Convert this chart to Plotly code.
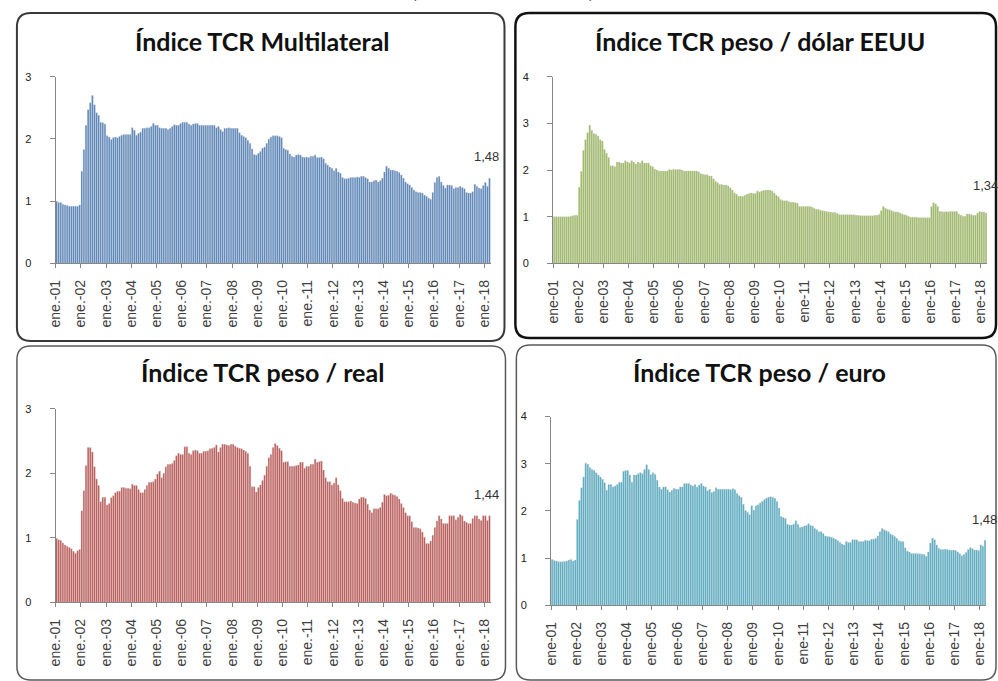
import plotly.graph_objects as go

# ---------------- data (monthly, ene-01 .. mar-18) ----------------
years = list(range(2001, 2019))
tick_years = [f"{y % 100:02d}" for y in years]
labels_dot = [f"ene.-{t}" for t in tick_years]
labels_plain = [f"ene-{t}" for t in tick_years]

multilateral = [
    1.00, 0.98, 0.98, 0.95, 0.94, 0.93, 0.92, 0.92, 0.92, 0.92, 0.92, 0.94,
    1.48, 1.83, 2.22, 2.47, 2.58, 2.70, 2.55, 2.42, 2.38, 2.27, 2.26, 2.24,
    2.05, 2.03, 1.99, 2.02, 2.03, 2.02, 2.04, 2.06, 2.07, 2.07, 2.07, 2.07,
    2.18, 2.14, 2.06, 2.09, 2.11, 2.17, 2.17, 2.18, 2.18, 2.20, 2.25, 2.22,
    2.22, 2.18, 2.17, 2.17, 2.17, 2.15, 2.17, 2.20, 2.23, 2.22, 2.22, 2.25,
    2.27, 2.27, 2.27, 2.24, 2.22, 2.24, 2.25, 2.25, 2.22, 2.22, 2.22, 2.22,
    2.22, 2.22, 2.22, 2.22, 2.18, 2.20, 2.15, 2.12, 2.17, 2.17, 2.18, 2.17,
    2.17, 2.17, 2.17, 2.10, 2.06, 2.04, 2.02, 1.98, 1.93, 1.84, 1.75, 1.74,
    1.77, 1.80, 1.85, 1.87, 1.93, 2.00, 2.03, 2.05, 2.05, 2.05, 2.04, 2.02,
    1.85, 1.83, 1.82, 1.76, 1.72, 1.71, 1.74, 1.75, 1.74, 1.71, 1.70, 1.71,
    1.70, 1.72, 1.72, 1.74, 1.70, 1.70, 1.71, 1.68, 1.61, 1.58, 1.55, 1.53,
    1.49, 1.53, 1.47, 1.45, 1.38, 1.36, 1.36, 1.37, 1.38, 1.38, 1.38, 1.39,
    1.38, 1.40, 1.40, 1.38, 1.36, 1.31, 1.31, 1.33, 1.34, 1.31, 1.33, 1.37,
    1.47, 1.56, 1.53, 1.50, 1.50, 1.49, 1.48, 1.46, 1.42, 1.37, 1.31, 1.28,
    1.26, 1.22, 1.18, 1.15, 1.14, 1.14, 1.13, 1.10, 1.08, 1.05, 1.03, 1.14,
    1.30, 1.38, 1.40, 1.31, 1.25, 1.21, 1.26, 1.26, 1.25, 1.20, 1.22, 1.22,
    1.24, 1.22, 1.20, 1.14, 1.13, 1.13, 1.15, 1.27, 1.24, 1.21, 1.20, 1.25,
    1.30, 1.24, 1.37,
]

dolar = [
    1.00, 1.00, 1.00, 1.00, 1.00, 1.00, 1.00, 1.00, 1.01, 1.02, 1.03, 1.03,
    1.63, 1.97, 2.42, 2.65, 2.80, 2.96, 2.85, 2.78, 2.76, 2.73, 2.65, 2.62,
    2.44, 2.36, 2.27, 2.09, 2.09, 2.07, 2.17, 2.17, 2.15, 2.15, 2.20, 2.17,
    2.15, 2.20, 2.17, 2.13, 2.17, 2.15, 2.20, 2.15, 2.15, 2.15, 2.09, 2.07,
    2.02, 2.00, 1.98, 1.98, 1.98, 1.98, 1.98, 2.01, 2.00, 2.01, 2.01, 2.01,
    2.01, 2.00, 1.98, 1.98, 1.98, 1.98, 1.98, 1.98, 1.98, 1.96, 1.92, 1.91,
    1.90, 1.90, 1.87, 1.87, 1.81, 1.76, 1.73, 1.69, 1.69, 1.68, 1.68, 1.66,
    1.62, 1.57, 1.51, 1.48, 1.44, 1.44, 1.44, 1.46, 1.48, 1.50, 1.51, 1.50,
    1.50, 1.55, 1.53, 1.55, 1.56, 1.57, 1.57, 1.57, 1.55, 1.51, 1.46, 1.43,
    1.37, 1.35, 1.34, 1.34, 1.32, 1.31, 1.31, 1.30, 1.29, 1.22, 1.22, 1.22,
    1.22, 1.22, 1.22, 1.21, 1.18, 1.16, 1.16, 1.14, 1.13, 1.12, 1.11, 1.10,
    1.10, 1.09, 1.09, 1.07, 1.05, 1.04, 1.04, 1.04, 1.04, 1.04, 1.04, 1.04,
    1.03, 1.03, 1.02, 1.02, 1.02, 1.02, 1.02, 1.02, 1.02, 1.03, 1.03, 1.05,
    1.13, 1.22, 1.18, 1.16, 1.15, 1.13, 1.11, 1.10, 1.10, 1.08, 1.06, 1.04,
    1.03, 1.01, 0.99, 0.99, 0.99, 0.99, 0.98, 0.98, 0.98, 0.98, 0.98, 0.98,
    1.22, 1.30, 1.27, 1.22, 1.11, 1.11, 1.10, 1.11, 1.10, 1.11, 1.11, 1.11,
    1.11, 1.06, 1.03, 1.01, 1.01, 1.06, 1.06, 1.04, 1.03, 1.03, 1.08, 1.11,
    1.10, 1.10, 1.08,
]

real = [
    0.99, 0.97, 0.96, 0.92, 0.89, 0.87, 0.85, 0.83, 0.79, 0.76, 0.80, 0.82,
    1.42, 1.73, 2.12, 2.40, 2.40, 2.33, 2.10, 1.91, 1.81, 1.56, 1.63, 1.63,
    1.51, 1.53, 1.62, 1.65, 1.70, 1.72, 1.72, 1.78, 1.78, 1.77, 1.77, 1.76,
    1.83, 1.81, 1.81, 1.75, 1.70, 1.70, 1.75, 1.81, 1.86, 1.86, 1.87, 1.91,
    1.99, 2.03, 1.93, 2.00, 2.10, 2.14, 2.14, 2.15, 2.20, 2.27, 2.31, 2.29,
    2.29, 2.41, 2.41, 2.31, 2.29, 2.35, 2.36, 2.35, 2.31, 2.31, 2.34, 2.34,
    2.35, 2.38, 2.39, 2.40, 2.44, 2.33, 2.40, 2.45, 2.45, 2.44, 2.43, 2.45,
    2.45, 2.42, 2.40, 2.39, 2.38, 2.36, 2.34, 2.31, 2.11, 1.79, 1.79, 1.71,
    1.78, 1.82, 1.89, 1.97, 2.11, 2.24, 2.29, 2.40, 2.46, 2.43, 2.39, 2.35,
    2.17, 2.18, 2.18, 2.11, 2.11, 2.11, 2.12, 2.13, 2.17, 2.17, 2.08, 2.11,
    2.11, 2.14, 2.14, 2.22, 2.17, 2.18, 2.19, 2.05, 1.93, 1.87, 1.87, 1.82,
    1.85, 1.93, 1.82, 1.73, 1.61, 1.56, 1.56, 1.56, 1.57, 1.55, 1.54, 1.53,
    1.60, 1.63, 1.63, 1.61, 1.52, 1.43, 1.39, 1.45, 1.45, 1.45, 1.47, 1.55,
    1.67, 1.65, 1.66, 1.69, 1.67, 1.66, 1.64, 1.60, 1.53, 1.47, 1.39, 1.34,
    1.34, 1.25, 1.16, 1.16, 1.15, 1.14, 1.09, 1.01, 0.91, 0.91, 0.95, 1.04,
    1.16, 1.26, 1.34, 1.29, 1.22, 1.22, 1.22, 1.34, 1.34, 1.34, 1.28, 1.32,
    1.36, 1.34, 1.26, 1.24, 1.22, 1.22, 1.30, 1.34, 1.34, 1.29, 1.27, 1.34,
    1.34, 1.27, 1.34,
]

euro = [
    0.97, 0.95, 0.94, 0.92, 0.92, 0.92, 0.93, 0.94, 0.96, 0.97, 0.94, 0.96,
    1.82, 2.22, 2.49, 2.72, 3.01, 2.99, 2.92, 2.88, 2.86, 2.81, 2.76, 2.72,
    2.67, 2.60, 2.44, 2.56, 2.56, 2.51, 2.53, 2.56, 2.61, 2.61, 2.84, 2.86,
    2.86, 2.76, 2.61, 2.76, 2.76, 2.79, 2.81, 2.79, 2.88, 2.98, 2.88, 2.77,
    2.81, 2.78, 2.65, 2.51, 2.46, 2.51, 2.51, 2.45, 2.40, 2.44, 2.48, 2.46,
    2.46, 2.51, 2.51, 2.58, 2.58, 2.58, 2.55, 2.53, 2.56, 2.51, 2.55, 2.58,
    2.53, 2.51, 2.43, 2.46, 2.39, 2.41, 2.49, 2.46, 2.46, 2.46, 2.46, 2.46,
    2.46, 2.45, 2.47, 2.45, 2.37, 2.32, 2.29, 2.14, 2.01, 1.97, 1.92, 2.11,
    2.02, 2.11, 2.13, 2.17, 2.20, 2.24, 2.27, 2.29, 2.30, 2.29, 2.27, 2.20,
    2.06, 1.88, 1.86, 1.84, 1.72, 1.70, 1.70, 1.72, 1.79, 1.72, 1.65, 1.66,
    1.68, 1.69, 1.73, 1.69, 1.68, 1.63, 1.60, 1.56, 1.56, 1.52, 1.47, 1.46,
    1.45, 1.44, 1.42, 1.40, 1.37, 1.33, 1.30, 1.28, 1.35, 1.33, 1.33, 1.39,
    1.39, 1.39, 1.35, 1.35, 1.35, 1.38, 1.37, 1.37, 1.40, 1.40, 1.42, 1.47,
    1.56, 1.63, 1.60, 1.58, 1.56, 1.51, 1.49, 1.46, 1.42, 1.37, 1.35, 1.35,
    1.22, 1.15, 1.13, 1.10, 1.10, 1.10, 1.09, 1.09, 1.08, 1.08, 1.04, 1.13,
    1.32, 1.42, 1.39, 1.28, 1.21, 1.18, 1.18, 1.19, 1.18, 1.17, 1.16, 1.17,
    1.16, 1.13, 1.09, 1.05, 1.08, 1.12, 1.18, 1.22, 1.20, 1.17, 1.17, 1.16,
    1.28, 1.25, 1.38,
]

titles = ["Índice TCR Multilateral", "Índice TCR peso / dólar EEUU",
          "Índice TCR peso / real", "Índice TCR peso / euro"]
last_labels = ["1,48", "1,34", "1,44", "1,48"]
colors = ["#4F81BD", "#9BBB59", "#C0504D", "#4BACC6"]
series = [multilateral, dolar, real, euro]
ymax = [3, 4, 3, 4]
tick_labels = [labels_dot, labels_plain, labels_dot, labels_plain]

# ---------------- layout geometry (pixels) ----------------
W, H = 998, 681
# (x_left, x_right, y_zero_px, y_top_px)
plot_px = [(48, 487, 262, 72), (550, 988, 262, 72),
           (48, 487, 607, 410), (548, 987, 610, 418)]
title_px = [(257, 36), (759, 36), (257, 373), (758, 373)]
label_pos = [(204.6, 1.71), (205.6, 1.66), (204.6, 1.67), (205.6, 1.81)]
boxes = [(9, 7, 501, 341, "#3a3a3a", 2), (512, 7, 997, 338, "#111111", 2.5),
         (9, 346, 502, 686, "#5a5a5a", 1.5), (513, 345, 997, 686, "#5a5a5a", 1.5)]

n = len(multilateral)
xs = list(range(n))
tickvals = [12 * k - 0.5 for k in range(len(years))]

fig = go.Figure()
layout = dict(width=W, height=H, margin=dict(l=0, r=0, t=0, b=0),
              paper_bgcolor="white", plot_bgcolor="white", showlegend=False,
              bargap=0.2, font=dict(family="Liberation Sans", color="#404040"))
annotations = []
shapes = []

def rounded(x0, y0, x1, y1, r):
    def P(x, y):
        return f"{x / W:.5f},{1 - y / H:.5f}"
    return (f"M {P(x0 + r, y0)} L {P(x1 - r, y0)} Q {P(x1, y0)} {P(x1, y0 + r)} "
            f"L {P(x1, y1 - r)} Q {P(x1, y1)} {P(x1 - r, y1)} "
            f"L {P(x0 + r, y1)} Q {P(x0, y1)} {P(x0, y1 - r)} "
            f"L {P(x0, y0 + r)} Q {P(x0, y0)} {P(x0 + r, y0)} Z")

for i in range(4):
    xl, xr, yz, yt = plot_px[i]
    ax = "" if i == 0 else str(i + 1)
    fig.add_trace(go.Bar(x=xs, y=series[i], xaxis="x" + ax, yaxis="y" + ax,
                         marker=dict(color=colors[i],
                                     line=dict(color="#cfcfcf", width=0.4)),
                         hoverinfo="y"))
    layout["xaxis" + ax] = dict(
        domain=[xl / W, xr / W], anchor="y" + ax, range=[-0.5, n - 0.5],
        tickmode="array", tickvals=tickvals, ticktext=tick_labels[i],
        tickangle=-90, ticks="outside", ticklen=4, tickcolor="#868686",
        showline=True, linecolor="#868686", linewidth=1, showgrid=False,
        zeroline=False, ticklabelstandoff=6,
        tickfont=dict(size=14, color="#404040", family="Liberation Sans"))
    layout["yaxis" + ax] = dict(
        domain=[1 - yz / H, 1 - yt / H], anchor="x" + ax, range=[0, ymax[i]],
        tickmode="linear", tick0=0, dtick=1, ticks="outside", ticklen=5,
        tickcolor="#868686", showline=True, linecolor="#868686", linewidth=1,
        showgrid=False, zeroline=False, ticklabelstandoff=16,
        tickfont=dict(size=11, color="#222222", family="Liberation Sans"))
    tx, ty = title_px[i]
    annotations.append(dict(text=f"<b>{titles[i]}</b>", x=tx / W, y=1 - ty / H,
                            xref="paper", yref="paper", showarrow=False,
                            xanchor="center", yanchor="middle",
                            font=dict(size=25, family="Lato", color="#111111")))
    lx, ly = label_pos[i]
    annotations.append(dict(text=last_labels[i], x=lx, y=ly, xref="x" + ax,
                            yref="y" + ax, showarrow=False, xanchor="center",
                            yanchor="middle",
                            font=dict(size=13, color="#333333",
                                      family="Liberation Sans")))
    bx0, by0, bx1, by1, bc, bw = boxes[i]
    shapes.append(dict(type="path", path=rounded(bx0, by0, bx1, by1, 14),
                       xref="paper", yref="paper",
                       line=dict(color=bc, width=bw), fillcolor="rgba(0,0,0,0)",
                       layer="below"))

# cut-off heading at the very top of the picture
annotations.append(dict(text="<b>(base ene-01 = 1)</b>", x=500 / W, y=1,
                        xref="paper", yref="paper", showarrow=False,
                        xanchor="center", yanchor="bottom", yshift=2,
                        font=dict(size=24, family="Lato", color="#111111")))

layout["annotations"] = annotations
layout["shapes"] = shapes
fig.update_layout(**layout)
fig.write_html("out.html", config={"displayModeBar": False},
               post_script="document.body.style.margin='0';"
                           "document.body.style.overflow='hidden';")
